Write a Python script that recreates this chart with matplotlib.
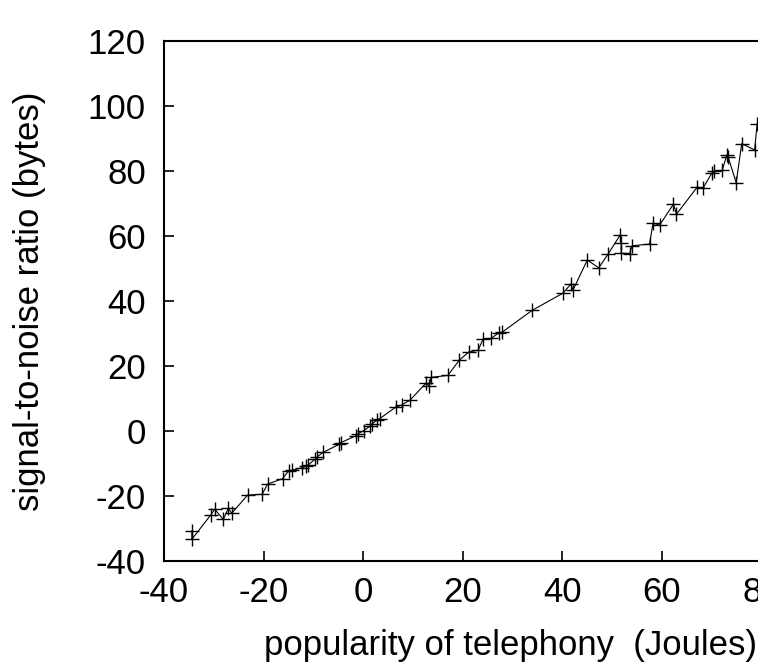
import matplotlib
matplotlib.use("Agg")
import matplotlib.pyplot as plt

x_vals = [-34.4, -34.4, -30.6, -29.8, -28.1, -27.1, -26.4, -23.2, -20.3, -19.2,
          -16.2, -15.0, -14.2, -12.2, -11.5, -11.0, -9.6, -9.2, -8.1, -4.8,
          -4.5, -1.4, -1.0, 0.1, 1.3, 1.8, 2.8, 3.3, 6.5, 7.7,
          9.4, 12.6, 13.3, 13.6, 17.0, 19.3, 21.2, 23.1, 24.1, 25.7,
          27.3, 27.9, 33.9, 40.1, 41.7, 42.1, 45.0, 47.3, 49.2, 51.6,
          51.8, 51.8, 53.5, 54.0, 57.5, 58.2, 59.5, 62.3, 62.9, 67.1,
          68.2, 70.0, 70.4, 72.1, 73.0, 73.3, 74.9, 76.0, 78.6, 79.1]
y_vals = [-30.7, -33.3, -25.8, -24.1, -27.2, -23.8, -25.3, -19.7, -19.5, -16.3,
          -14.7, -12.3, -12.0, -11.3, -10.7, -10.4, -8.6, -7.9, -6.6, -4.1,
          -3.6, -1.4, -0.8, 0.1, 1.4, 2.2, 3.4, 3.8, 7.3, 8.0,
          9.5, 14.7, 13.9, 16.5, 17.1, 21.8, 24.3, 24.9, 28.4, 28.5,
          30.3, 30.4, 37.1, 42.4, 45.2, 43.3, 52.6, 50.2, 54.5, 60.3,
          57.8, 54.7, 54.6, 57.0, 57.5, 64.0, 63.3, 69.8, 66.7, 75.1,
          74.7, 79.3, 79.9, 80.2, 84.9, 84.2, 76.4, 88.4, 86.5, 94.4]
x_ticks = [-40, -20, 0, 20, 40, 60, 80]
y_ticks = [-40, -20, 0, 20, 40, 60, 80, 100, 120]
x_label = "popularity of telephony  (Joules)"
y_label = "signal-to-noise ratio (bytes)"

plt.rcParams['font.family'] = ['Liberation Sans', 'DejaVu Sans']
plt.rcParams['axes.unicode_minus'] = False

W, H = 758, 668
fig = plt.figure(figsize=(W / 100, H / 100), dpi=100)
left, right, top, bottom = 164, 761.6, 41, 561
ax = fig.add_axes([left / W, (H - bottom) / H, (right - left) / W, (bottom - top) / H])

ax.plot(x_vals, y_vals, color='black', linewidth=0.8, marker='+',
        markersize=10, markeredgewidth=1.0)

ax.set_xlim(-40, 80)
ax.set_ylim(-40, 120)
ax.set_xticks(x_ticks)
ax.set_yticks(y_ticks)
ax.tick_params(direction='in', length=7, width=1.2, labelsize=25,
               top=False, right=False)
ax.tick_params(axis='x', pad=11)
ax.tick_params(axis='y', pad=13)
for s in ax.spines.values():
    s.set_linewidth(1.5)

fig.text(511 / W, (H - 645) / H, x_label, fontsize=25, ha='center', va='center')
fig.text(30 / W, (H - 301) / H, y_label, fontsize=25, ha='center', va='center',
         rotation=90)

fig.savefig("out.png", dpi=100)
